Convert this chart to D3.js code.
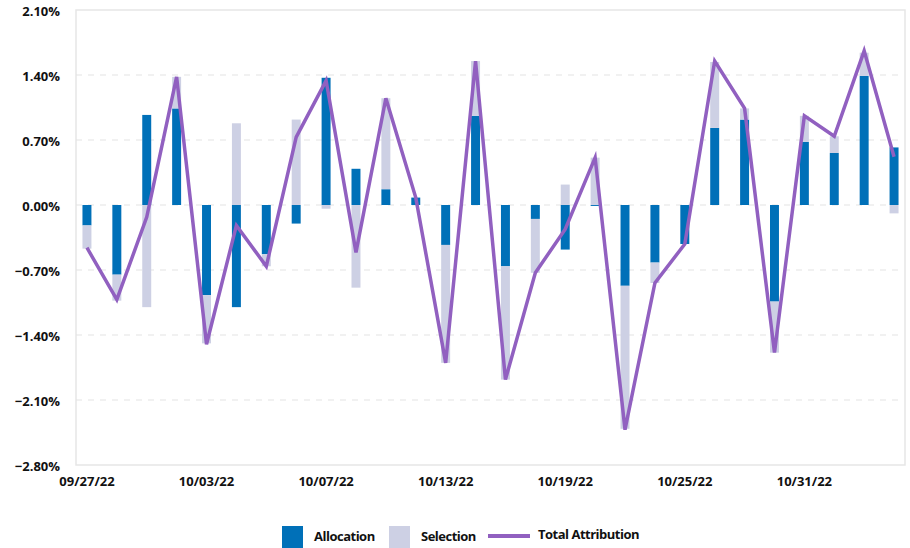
<!DOCTYPE html>
<html>
<head>
<meta charset="utf-8">
<script src="https://cdn.jsdelivr.net/npm/d3@7"></script>
<style>
  body { margin: 0; background: #fff; }
  svg text { font-family: "Open Sans", "Noto Sans", sans-serif; font-weight: 700; font-stretch: 88%; fill: #111; }
  .y-axis text { font-stretch: 100%; }
  .legend text { letter-spacing: -0.5px; }
</style>
</head>
<body>
<div id="chart"></div>
<script>
const dates = ["09/27/22","09/28/22","09/29/22","09/30/22","10/03/22","10/04/22","10/05/22","10/06/22",
  "10/07/22","10/10/22","10/11/22","10/12/22","10/13/22","10/14/22","10/17/22","10/18/22","10/19/22",
  "10/20/22","10/21/22","10/24/22","10/25/22","10/26/22","10/27/22","10/28/22","10/31/22","11/01/22",
  "11/02/22","11/03/22"];
const allocation = [-0.22,-0.75,0.97,1.04,-0.97,-1.10,-0.53,-0.20,1.37,0.39,0.17,0.08,-0.43,0.96,
  -0.66,-0.15,-0.48,-0.01,-0.87,-0.62,-0.42,0.83,0.92,-1.04,0.68,0.56,1.39,0.62];
const selection = [-0.25,-0.28,-1.10,0.34,-0.52,0.88,-0.13,0.92,-0.04,-0.89,0.98,0.00,-1.27,0.59,
  -1.22,-0.58,0.22,0.51,-1.54,-0.22,0.00,0.71,0.12,-0.55,0.28,0.18,0.25,-0.09];
const total = [-0.46,-1.02,-0.13,1.38,-1.50,-0.22,-0.66,0.73,1.34,-0.51,1.15,0.08,-1.70,1.55,
  -1.88,-0.73,-0.26,0.51,-2.42,-0.84,-0.42,1.55,1.04,-1.59,0.96,0.74,1.66,0.52];
const yTicks = [-2.8,-2.1,-1.4,-0.7,0,0.7,1.4,2.1];
const xTicks = ["09/27/22","10/03/22","10/07/22","10/13/22","10/19/22","10/25/22","10/31/22"];

const colors = { allocation: "#0070b8", selection: "#cdd0e4", total: "#9160c0" };

const W = 910, H = 548;
const plot = { left: 76, right: 905, top: 10, bottom: 465 };

const svg = d3.select("#chart").append("svg").attr("width", W).attr("height", H);

const x = d3.scaleBand().domain(dates).range([72, 909]).paddingInner(0.7).paddingOuter(0.35);
const y = d3.scaleLinear().domain([-2.8, 2.1]).range([plot.bottom, plot.top]);

// frame
svg.append("rect")
  .attr("x", plot.left).attr("y", plot.top)
  .attr("width", plot.right - plot.left).attr("height", plot.bottom - plot.top)
  .attr("fill", "none").attr("stroke", "#e6e6e6").attr("stroke-width", 1.5);

// grid
svg.append("g").selectAll("line")
  .data(yTicks.filter(d => d > -2.8 && d < 2.1))
  .join("line")
  .attr("x1", plot.left).attr("x2", plot.right - 5)
  .attr("y1", d => y(d)).attr("y2", d => y(d))
  .attr("stroke", "#e3e3e3").attr("stroke-dasharray", "6,6");

// y axis
const yAxis = svg.append("g")
  .attr("class", "y-axis")
  .attr("transform", `translate(${plot.left},0)`)
  .call(d3.axisLeft(y).tickValues(yTicks).tickSize(0).tickPadding(16)
    .tickFormat(d => d3.format(".2f")(d) + "%"));
yAxis.select(".domain").remove();
yAxis.selectAll("text").attr("font-size", 13).attr("dy", "0.45em");

// x axis
const xAxis = svg.append("g")
  .attr("transform", `translate(0,${plot.bottom})`)
  .call(d3.axisBottom(x).tickValues(xTicks).tickSize(0).tickPadding(12));
xAxis.select(".domain").remove();
xAxis.selectAll("text").attr("font-size", 13);

// stacked bars
const rows = dates.map((d, i) => ({ date: d, allocation: allocation[i], selection: selection[i] }));
const series = d3.stack().keys(["allocation", "selection"]).offset(d3.stackOffsetDiverging)(rows);

svg.append("g").selectAll("g")
  .data(series)
  .join("g")
  .attr("fill", s => colors[s.key])
  .selectAll("rect")
  .data(s => s)
  .join("rect")
  .attr("x", d => x(d.data.date))
  .attr("width", x.bandwidth())
  .attr("y", d => y(Math.max(d[0], d[1])))
  .attr("height", d => Math.abs(y(d[0]) - y(d[1])));

// total line
const line = d3.line()
  .x((d, i) => x(dates[i]) + x.bandwidth() / 2)
  .y(d => y(d));
svg.append("path")
  .datum(total)
  .attr("d", line)
  .attr("fill", "none")
  .attr("stroke", colors.total)
  .attr("stroke-width", 3.5);

// legend
const legend = svg.append("g").attr("class", "legend").attr("transform", "translate(0,536)");
legend.append("rect").attr("x", 282).attr("y", -10).attr("width", 21).attr("height", 24).attr("fill", colors.allocation);
legend.append("text").attr("x", 314).attr("dy", "0.35em").attr("font-size", 13).text("Allocation");
legend.append("rect").attr("x", 389).attr("y", -10).attr("width", 21).attr("height", 24).attr("fill", colors.selection);
legend.append("text").attr("x", 421).attr("dy", "0.35em").attr("font-size", 13).text("Selection");
legend.append("line").attr("x1", 488).attr("x2", 530).attr("y1", 0).attr("y2", 0)
  .attr("stroke", colors.total).attr("stroke-width", 4);
legend.append("text").attr("x", 538).attr("dy", "0.2em").attr("font-size", 13).text("Total Attribution");
</script>
</body>
</html>
